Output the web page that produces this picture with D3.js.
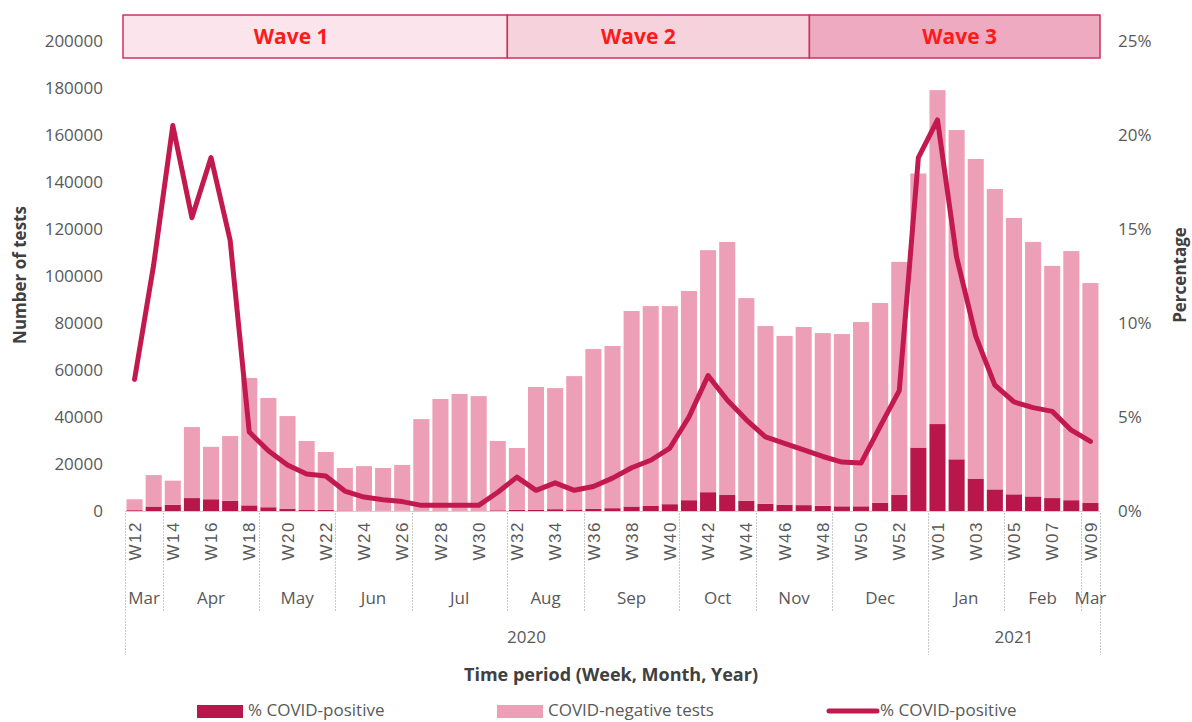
<!DOCTYPE html>
<html>
<head>
<meta charset="utf-8">
<script src="https://cdn.jsdelivr.net/npm/d3@7"></script>
<style>
  html, body { margin: 0; padding: 0; background: #ffffff; }
  svg { display: block; font-family: "Open Sans", "Noto Sans", sans-serif; }
</style>
</head>
<body>
<svg id="chart" width="1192" height="722"></svg>
<script>
// Weekly COVID testing, W12 2020 – W09 2021
const weeks = [
  "W12","W13","W14","W15","W16","W17","W18","W19","W20","W21","W22","W23","W24","W25","W26",
  "W27","W28","W29","W30","W31","W32","W33","W34","W35","W36","W37","W38","W39","W40","W41",
  "W42","W43","W44","W45","W46","W47","W48","W49","W50","W51","W52","W53",
  "W01","W02","W03","W04","W05","W06","W07","W08","W09"
];

// Number of COVID-positive tests per week
const positiveTests = [
  350, 1900, 2600, 5500, 5000, 4300, 2400, 1600, 1000, 600, 500, 200, 150, 110, 100,
  120, 140, 150, 150, 300, 480, 580, 780, 630, 900, 1200, 1900, 2300, 2900, 4600,
  8000, 6800, 4400, 3100, 2700, 2500, 2200, 2000, 2000, 3500, 6800, 27000,
  37000, 22000, 13800, 9200, 7100, 6200, 5500, 4600, 3400
];

// Number of COVID-negative tests per week
const negativeTests = [
  4650, 13400, 10300, 30200, 22300, 27600, 54200, 46500, 39400, 29200, 24600, 18100, 18950, 18190, 19500,
  38980, 47560, 49650, 48750, 29500, 26320, 52220, 51520, 56770, 68000, 69000, 83200, 84900, 84300, 89000,
  103000, 107700, 86200, 75600, 71800, 75800, 73500, 73300, 78400, 85000, 99200, 116600,
  142100, 140100, 136000, 127800, 117600, 108300, 98800, 106000, 93600
];

// Share of tests that were positive (%)
const percentPositive = [
  7.0, 13.1, 20.5, 15.6, 18.8, 14.4, 4.2, 3.2, 2.45, 1.97, 1.86, 1.06, 0.74, 0.6, 0.5,
  0.3, 0.3, 0.3, 0.3, 1.0, 1.8, 1.1, 1.5, 1.1, 1.3, 1.75, 2.3, 2.7, 3.35, 5.0,
  7.2, 5.9, 4.85, 3.94, 3.6, 3.25, 2.9, 2.6, 2.55, 4.5, 6.4, 18.8,
  20.8, 13.5, 9.3, 6.7, 5.8, 5.5, 5.3, 4.3, 3.7
];

// Month and year groupings of the week axis (number of weeks in each)
const months = ["Mar","Apr","May","Jun","Jul","Aug","Sep","Oct","Nov","Dec","Jan","Feb","Mar"];
const monthWeeks = [2, 5, 4, 4, 5, 4, 5, 4, 4, 5, 4, 4, 1];
const years = ["2020", "2021"];
const yearWeeks = [42, 9];

// Epidemic waves, boundaries in weeks from the start of the axis
const waves = ["Wave 1", "Wave 2", "Wave 3"];
const waveBounds = [0, 20, 35.8, 51];

const countTicks = [0, 20000, 40000, 60000, 80000, 100000, 120000, 140000, 160000, 180000, 200000];
const percentTicks = [0, 5, 10, 15, 20, 25];

// ---- layout ----
const svg = d3.select("#chart");
const plotLeft = 125, plotRight = 1100, plotTop = 41, plotBottom = 511;

const C_POS = "#b9174b";
const C_NEG = "#ed9fb7";
const C_LINE = "#c21a4f";
const C_TEXT = "#595959";
const C_TITLE = "#404040";
const C_SEP = "#c8c8c8";

const x = d3.scaleBand().domain(weeks).range([plotLeft, plotRight])
  .paddingInner(0.16).paddingOuter(0.08);
const step = x.step();
const boundary = k => plotLeft + k * step;

const y = d3.scaleLinear().domain([0, 200000]).range([plotBottom, plotTop]);
const y2 = d3.scaleLinear().domain([0, 25]).range([plotBottom, plotTop]);
const weekPos = d3.scaleLinear().domain([0, weeks.length]).range([plotLeft, plotRight]);

// ---- wave header ----
const waveFills = ["#fbe4ec", "#f6d2dd", "#eeaac0"];
const waveLabelShift = [-24, -20, 5];
const waveG = svg.append("g");
waves.forEach((w, i) => {
  const x0 = weekPos(waveBounds[i]) - (i === 0 ? 2 : 0);
  const x1 = weekPos(waveBounds[i + 1]);
  waveG.append("rect")
    .attr("x", x0).attr("y", 15).attr("width", x1 - x0).attr("height", 43)
    .attr("fill", waveFills[i]).attr("stroke", "#c9345f").attr("stroke-width", 1.5);
  waveG.append("text")
    .attr("x", (x0 + x1) / 2 + waveLabelShift[i]).attr("y", 44)
    .attr("text-anchor", "middle")
    .attr("font-size", 21).attr("font-weight", 700).attr("fill", "#ff1a1a")
    .text(w);
});

// ---- stacked bars ----
const rows = weeks.map((w, i) => ({ week: w, positive: positiveTests[i], negative: negativeTests[i] }));
const stack = d3.stack().keys(["positive", "negative"])(rows);
const barColors = { positive: C_POS, negative: C_NEG };

svg.append("g").selectAll("g").data(stack).join("g")
  .attr("fill", d => barColors[d.key])
  .selectAll("rect").data(d => d).join("rect")
    .attr("x", d => x(d.data.week))
    .attr("width", x.bandwidth())
    .attr("y", d => y(d[1]))
    .attr("height", d => y(d[0]) - y(d[1]));

// ---- percentage line ----
const line = d3.line()
  .x((d, i) => x(weeks[i]) + x.bandwidth() / 2)
  .y(d => y2(d));
svg.append("path")
  .datum(percentPositive)
  .attr("d", line)
  .attr("fill", "none")
  .attr("stroke", C_LINE)
  .attr("stroke-width", 5)
  .attr("stroke-linejoin", "round")
  .attr("stroke-linecap", "round");

// ---- left axis ----
const yAxis = d3.axisLeft(y).tickValues(countTicks).tickSize(0).tickPadding(22).tickFormat(d3.format("d"));
const gy = svg.append("g").attr("transform", `translate(${plotLeft},0)`).call(yAxis);
gy.select(".domain").remove();
gy.selectAll("text").attr("font-size", 17).attr("fill", C_TEXT).attr("font-family", "Open Sans");

// ---- right axis ----
const y2Axis = d3.axisRight(y2).tickValues(percentTicks).tickSize(0).tickPadding(18).tickFormat(d => d + "%");
const gy2 = svg.append("g").attr("transform", `translate(${plotRight},0)`).call(y2Axis);
gy2.select(".domain").remove();
gy2.selectAll("text").attr("font-size", 17).attr("fill", C_TEXT).attr("font-family", "Open Sans");

// ---- x axis: weeks ----
svg.append("line")
  .attr("x1", plotLeft).attr("x2", plotRight).attr("y1", plotBottom + 0.5).attr("y2", plotBottom + 0.5)
  .attr("stroke", "#d0d0d0").attr("stroke-width", 1);

const xAxis = d3.axisBottom(x).tickSize(0).tickFormat((d, i) => i % 2 === 0 ? d : "");
const gx = svg.append("g").attr("transform", `translate(0,${plotBottom})`).call(xAxis);
gx.select(".domain").remove();
gx.selectAll(".tick text")
  .attr("font-size", 17).attr("fill", C_TEXT)
  .attr("letter-spacing", 1.5)
  .attr("text-anchor", "end")
  .attr("transform", "rotate(-90)")
  .attr("x", -10).attr("y", 0).attr("dy", "0.36em");

// ---- x axis: months ----
const monthStarts = d3.cumsum([0, ...monthWeeks]);
const sepG = svg.append("g").attr("stroke", C_SEP).attr("stroke-width", 1).attr("stroke-dasharray", "2,1");
months.forEach((m, i) => {
  const a = boundary(monthStarts[i]), b = boundary(monthStarts[i + 1]);
  svg.append("text")
    .attr("x", (a + b) / 2).attr("y", 604)
    .attr("text-anchor", "middle").attr("font-size", 17).attr("fill", C_TEXT)
    .text(m);
});
monthStarts.forEach(k => {
  sepG.append("line")
    .attr("x1", Math.round(boundary(k)) + 0.5).attr("x2", Math.round(boundary(k)) + 0.5)
    .attr("y1", plotBottom + 2).attr("y2", 612);
});

// ---- x axis: years ----
const yearStarts = d3.cumsum([0, ...yearWeeks]);
years.forEach((yr, i) => {
  const a = boundary(yearStarts[i]), b = boundary(yearStarts[i + 1]);
  svg.append("text")
    .attr("x", (a + b) / 2).attr("y", 643)
    .attr("text-anchor", "middle").attr("font-size", 17).attr("fill", C_TEXT)
    .text(yr);
});
yearStarts.forEach(k => {
  sepG.append("line")
    .attr("x1", Math.round(boundary(k)) + 0.5).attr("x2", Math.round(boundary(k)) + 0.5)
    .attr("y1", 612).attr("y2", 655);
});

// ---- axis titles ----
svg.append("text")
  .attr("transform", "translate(26,275) rotate(-90)")
  .attr("text-anchor", "middle").attr("font-size", 17).attr("font-weight", 700).attr("fill", C_TITLE)
  .text("Number of tests");
svg.append("text")
  .attr("transform", "translate(1186,275) rotate(-90)")
  .attr("text-anchor", "middle").attr("font-size", 17).attr("font-weight", 700).attr("fill", C_TITLE)
  .text("Percentage");
svg.append("text")
  .attr("x", 611).attr("y", 681)
  .attr("text-anchor", "middle").attr("font-size", 18).attr("font-weight", 700).attr("fill", C_TITLE)
  .text("Time period (Week, Month, Year)");

// ---- legend ----
const legend = svg.append("g").attr("font-size", 17).attr("fill", C_TEXT);
legend.append("rect").attr("x", 197).attr("y", 705).attr("width", 46).attr("height", 13).attr("fill", C_POS);
legend.append("text").attr("x", 248).attr("y", 716).text("% COVID-positive");
legend.append("rect").attr("x", 497).attr("y", 705).attr("width", 46).attr("height", 13).attr("fill", C_NEG);
legend.append("text").attr("x", 548).attr("y", 716).text("COVID-negative tests");
legend.append("line").attr("x1", 829).attr("x2", 877).attr("y1", 711).attr("y2", 711)
  .attr("stroke", C_LINE).attr("stroke-width", 5).attr("stroke-linecap", "round");
legend.append("text").attr("x", 880).attr("y", 716).text("% COVID-positive");
</script>
</body>
</html>
